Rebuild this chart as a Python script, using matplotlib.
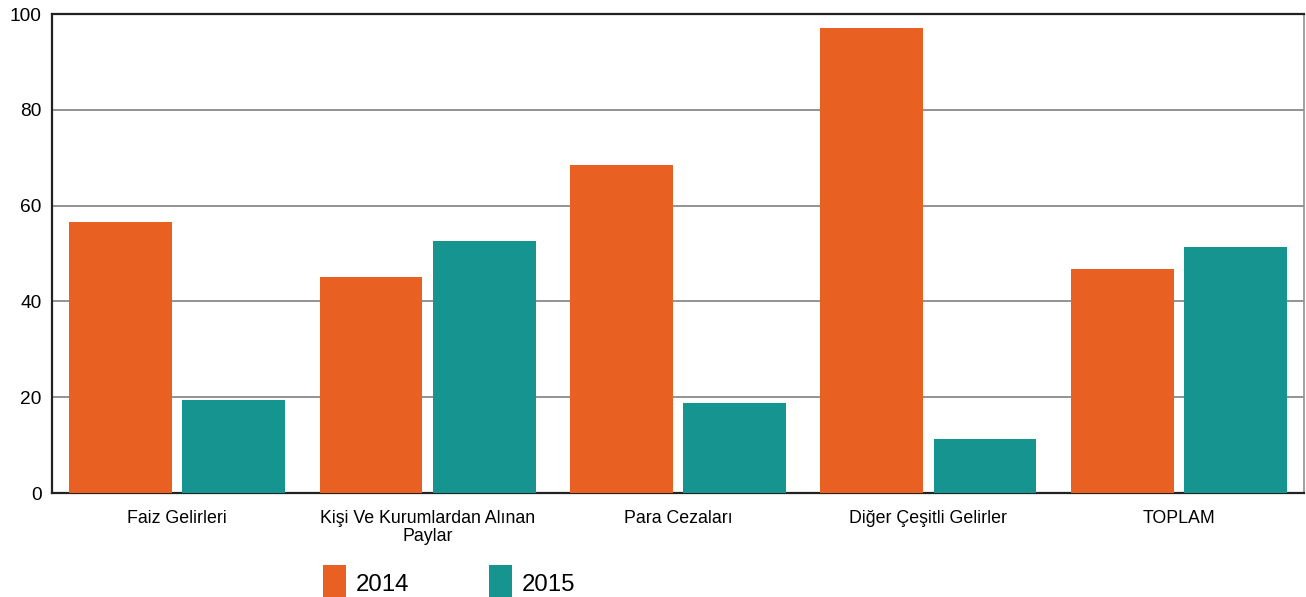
"""
Grouped bar chart of revenue items, 2014 vs 2015.
"""
import matplotlib.pyplot as plt
import numpy as np

categories = ['Faiz Gelirleri', 'Kişi Ve Kurumlardan Alınan\nPaylar',
              'Para Cezaları', 'Diğer Çeşitli Gelirler', 'TOPLAM']
values_2014 = [56.6, 45.1, 68.5, 97.1, 46.8]
values_2015 = [19.4, 52.6, 18.8, 11.3, 51.4]
yticks = [0, 20, 40, 60, 80, 100]

plt.rcParams['font.family'] = ['Liberation Sans', 'DejaVu Sans']

fig = plt.figure(figsize=(13.06, 5.97), dpi=100)
ax = fig.add_axes([0.0398, 0.174, 0.9587, 0.8025])

x = np.arange(len(categories))
w = 0.41
b1 = ax.bar(x - 0.226, values_2014, w, color='#E86022', label='2014', zorder=3)
b2 = ax.bar(x + 0.226, values_2015, w, color='#159490', label='2015', zorder=3)

ax.set_xlim(-0.5, len(categories) - 0.5)
ax.set_ylim(0, 100)
ax.set_yticks(yticks)
ax.set_xticks(x)
ax.set_xticklabels(categories, fontsize=12.8, linespacing=1.1)
ax.tick_params(axis='y', length=0, labelsize=13.8, pad=7.5)
ax.tick_params(axis='x', length=0, pad=12)
ax.yaxis.grid(True, color='#808080', linewidth=1.2, zorder=0)

for side in ['left', 'bottom', 'top']:
    ax.spines[side].set_color('#222222')
    ax.spines[side].set_linewidth(1.6)
ax.spines['right'].set_color('#909090')
ax.spines['right'].set_linewidth(1.2)

fig.legend(handles=[b1, b2], loc='center left', bbox_to_anchor=(0.231, 0.0235),
           ncol=2, frameon=False, fontsize=17.3, handlelength=0.95,
           handleheight=1.9, columnspacing=3.3, handletextpad=0.42)

fig.savefig('out.png', dpi=100)
